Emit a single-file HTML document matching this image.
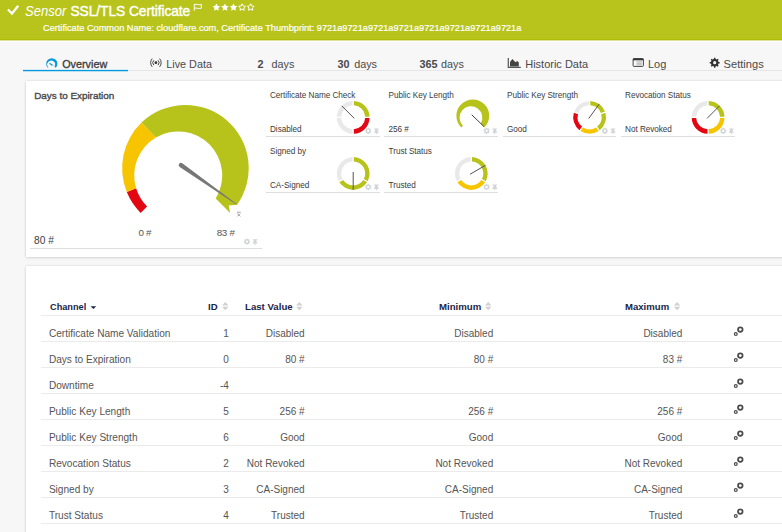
<!DOCTYPE html>
<html><head><meta charset="utf-8"><style>
html,body{margin:0;padding:0;}
body{width:782px;height:532px;overflow:hidden;position:relative;background:#f7f7f7;font-family:"Liberation Sans",sans-serif;}
.t{position:absolute;white-space:nowrap;line-height:1;}
#hdr{position:absolute;left:0;top:0;width:782px;height:39px;background:#b8c41c;border-bottom:1px solid #b0bc08;}
#hdr2{position:absolute;left:0;top:40px;width:782px;height:1px;background:#dce29c;}
#hdr3{position:absolute;left:0;top:41px;width:782px;height:1px;background:#fdfdfd;}
.panel{position:absolute;background:#fff;box-shadow:0 0 2px rgba(0,0,0,0.12),0 1px 3px rgba(0,0,0,0.10);}
svg{position:absolute;left:0;top:0;}
</style></head><body>
<div id="hdr"></div><div id="hdr2"></div><div id="hdr3"></div>
<div class="panel" style="left:26px;top:81px;width:770px;height:176px"></div>
<div class="panel" style="left:26px;top:266px;width:770px;height:280px"></div>
<div style="position:absolute;left:23px;top:70px;width:759px;height:1px;background:#e6e6e6"></div>
<div style="position:absolute;left:23px;top:69px;width:105px;height:1px;background:#d3ecf7"></div>
<div style="position:absolute;left:23px;top:70px;width:105px;height:1px;background:#0499d8"></div>
<div style="position:absolute;left:23px;top:71px;width:105px;height:1px;background:#b9e0f2"></div>
<div style="position:absolute;left:30px;top:248px;width:232px;height:1px;background:#dedede"></div>
<div style="position:absolute;left:266px;top:136px;width:114px;height:1px;background:#dedede"></div>
<div style="position:absolute;left:384px;top:136px;width:114px;height:1px;background:#dedede"></div>
<div style="position:absolute;left:503px;top:136px;width:113px;height:1px;background:#dedede"></div>
<div style="position:absolute;left:621px;top:136px;width:114px;height:1px;background:#dedede"></div>
<div style="position:absolute;left:266px;top:192px;width:114px;height:1px;background:#dedede"></div>
<div style="position:absolute;left:384px;top:192px;width:114px;height:1px;background:#dedede"></div>
<div style="position:absolute;left:41px;top:315px;width:741px;height:1px;background:#ebebeb"></div>
<div style="position:absolute;left:41px;top:341px;width:741px;height:1px;background:#ebebeb"></div>
<div style="position:absolute;left:41px;top:367px;width:741px;height:1px;background:#ebebeb"></div>
<div style="position:absolute;left:41px;top:393px;width:741px;height:1px;background:#ebebeb"></div>
<div style="position:absolute;left:41px;top:419px;width:741px;height:1px;background:#ebebeb"></div>
<div style="position:absolute;left:41px;top:445px;width:741px;height:1px;background:#ebebeb"></div>
<div style="position:absolute;left:41px;top:471px;width:741px;height:1px;background:#ebebeb"></div>
<div style="position:absolute;left:41px;top:497px;width:741px;height:1px;background:#ebebeb"></div>
<div style="position:absolute;left:41px;top:523px;width:741px;height:1px;background:#ebebeb"></div>
<svg width="782" height="532" viewBox="0 0 782 532">
<!-- check mark -->
<path d="M7.9,9.5 L12.0,13.5 L18.2,5.8" fill="none" stroke="#fff" stroke-width="2.2"/>
<!-- flag -->
<path d="M194.3,10.8 V4.0 M194.3,4.6 C196.5,3.4 198.6,5.6 201.3,4.4 V8.2 C198.6,9.4 196.5,7.2 194.3,8.4" fill="none" stroke="#fff" stroke-width="1"/>
<polygon points="216.40,3.40 215.22,5.78 212.60,6.16 214.50,8.02 214.05,10.64 216.40,9.40 218.75,10.64 218.30,8.02 220.20,6.16 217.58,5.78" fill="#fff"/>
<polygon points="224.97,3.40 223.79,5.78 221.17,6.16 223.07,8.02 222.62,10.64 224.97,9.40 227.32,10.64 226.87,8.02 228.77,6.16 226.15,5.78" fill="#fff"/>
<polygon points="233.54,3.40 232.36,5.78 229.74,6.16 231.64,8.02 231.19,10.64 233.54,9.40 235.89,10.64 235.44,8.02 237.34,6.16 234.72,5.78" fill="#fff"/>
<polygon points="242.11,3.80 241.05,5.94 238.69,6.29 240.40,7.96 239.99,10.31 242.11,9.20 244.23,10.31 243.82,7.96 245.53,6.29 243.17,5.94" fill="none" stroke="#fff" stroke-width="1"/>
<polygon points="250.68,3.80 249.62,5.94 247.26,6.29 248.97,7.96 248.56,10.31 250.68,9.20 252.80,10.31 252.39,7.96 254.10,6.29 251.74,5.94" fill="none" stroke="#fff" stroke-width="1"/>
<path d="M47.84,67.76 A5.60,5.60 0 1 1 55.76,67.76 L54.48,66.48 A3.89,3.89 0 1 0 48.41,67.19 Z" fill="#0499d8"/>
<line x1="49.5" y1="63.3" x2="52.6" y2="65.5" stroke="#0499d8" stroke-width="1.1"/>
<circle cx="155.9" cy="62.7" r="1.4" fill="#333"/>
<path d="M153.8,60.3 A3.4,3.4 0 0 0 153.8,65.1 M158.0,60.3 A3.4,3.4 0 0 1 158.0,65.1" fill="none" stroke="#444" stroke-width="1"/>
<path d="M152.2,58.6 A6.2,6.2 0 0 0 152.2,66.8 M159.6,58.6 A6.2,6.2 0 0 1 159.6,66.8" fill="none" stroke="#444" stroke-width="1"/>
<path d="M508.3,58 V67.4 H520.8" fill="none" stroke="#555" stroke-width="1.2"/>
<path d="M510,66.5 V62 L512.4,59 L515.5,62.3 L517.2,61 L518.8,62.6 V66.5 Z" fill="#444"/>
<rect x="633.1" y="58.6" width="10.3" height="7.8" rx="0.8" fill="#f7f7f7" stroke="#444" stroke-width="1"/>
<rect x="633.1" y="58.6" width="10.3" height="1.7" fill="#333"/>
<path d="M636.5,61.8 h5.4 M636.5,63.3 h5.4 M636.5,64.8 h5.4" stroke="#999" stroke-width="0.7"/>
<path d="M718.53,63.45 L719.65,63.39 L719.65,62.01 L718.53,61.95 L717.93,60.52 L718.69,59.68 L717.72,58.71 L716.88,59.47 L715.45,58.87 L715.39,57.75 L714.01,57.75 L713.95,58.87 L712.52,59.47 L711.68,58.71 L710.71,59.68 L711.47,60.52 L710.87,61.95 L709.75,62.01 L709.75,63.39 L710.87,63.45 L711.47,64.88 L710.71,65.72 L711.68,66.69 L712.52,65.93 L713.95,66.53 L714.01,67.65 L715.39,67.65 L715.45,66.53 L716.88,65.93 L717.72,66.69 L718.69,65.72 L717.93,64.88 Z M716.30,62.70 A1.6,1.6 0 1 0 713.10,62.70 A1.6,1.6 0 1 0 716.30,62.70 Z" fill="#333" fill-rule="evenodd"/>
<path d="M140.64,212.96 A63.30,63.30 0 0 1 126.79,192.12 L136.12,188.31 A44.00,44.00 0 0 0 147.07,206.53 Z" fill="#e30613"/>
<path d="M126.79,192.12 A63.30,63.30 0 0 1 141.51,122.59 L155.86,137.50 A44.00,44.00 0 0 0 136.12,188.31 Z" fill="#f6c500"/>
<path d="M141.51,122.59 A63.3,63.3 0 0 1 237.13,204.69 L228.69,205.43 L230.16,212.96 L215.67,198.47 A44,44 0 0 0 155.86,137.50 Z" fill="#b7c31b"/>
<path d="M179.69,166.93 L236.27,204.51 L236.67,203.94 L182.28,163.25 A2.25,2.25 0 0 0 179.69,166.93 Z" fill="#777"/>
<path d="M461.20,127.40 A16.40,16.40 0 1 1 484.40,127.40 L480.64,123.64 A11.40,11.40 0 1 0 462.87,125.73 Z" fill="#b7c31b"/>
<line x1="471.72" y1="114.76" x2="483.95" y2="126.57" stroke="#444" stroke-width="1"/>
<path d="M336.81,116.65 A16.4,16.4 0 0 1 352.55,100.91 L352.55,105.32 A12.0,12.0 0 0 0 341.22,116.65 Z" fill="#e9e9e9"/>
<path d="M353.85,100.91 A16.4,16.4 0 0 1 369.59,116.65 L365.18,116.65 A12.0,12.0 0 0 0 353.85,105.32 Z" fill="#b7c31b"/>
<path d="M369.59,117.95 A16.4,16.4 0 0 1 353.85,133.69 L353.85,129.28 A12.0,12.0 0 0 0 365.18,117.95 Z" fill="#e30613"/>
<path d="M352.55,133.69 A16.4,16.4 0 0 1 336.81,117.95 L341.22,117.95 A12.0,12.0 0 0 0 352.55,129.28 Z" fill="#e9e9e9"/>
<line x1="354.26" y1="118.36" x2="341.74" y2="105.84" stroke="#555" stroke-width="1"/>
<path d="M574.22,111.62 A16.4,16.4 0 0 1 588.95,100.91 L588.95,105.32 A12.0,12.0 0 0 0 578.40,112.98 Z" fill="#e9e9e9"/>
<path d="M590.25,100.91 A16.4,16.4 0 0 1 604.98,111.62 L600.80,112.98 A12.0,12.0 0 0 0 590.25,105.32 Z" fill="#b7c31b"/>
<path d="M605.39,112.85 A16.4,16.4 0 0 1 599.76,130.18 L597.17,126.61 A12.0,12.0 0 0 0 601.20,114.22 Z" fill="#b7c31b"/>
<path d="M598.71,130.94 A16.4,16.4 0 0 1 580.49,130.94 L583.08,127.38 A12.0,12.0 0 0 0 596.12,127.38 Z" fill="#f6c500"/>
<path d="M579.44,130.18 A16.4,16.4 0 0 1 573.81,112.85 L578.00,114.22 A12.0,12.0 0 0 0 582.03,126.61 Z" fill="#e30613"/>
<line x1="588.72" y1="118.51" x2="599.12" y2="104.19" stroke="#555" stroke-width="1"/>
<path d="M691.71,116.65 A16.4,16.4 0 0 1 707.45,100.91 L707.45,105.32 A12.0,12.0 0 0 0 696.12,116.65 Z" fill="#e9e9e9"/>
<path d="M708.75,100.91 A16.4,16.4 0 0 1 724.49,116.65 L720.08,116.65 A12.0,12.0 0 0 0 708.75,105.32 Z" fill="#b7c31b"/>
<path d="M724.49,117.95 A16.4,16.4 0 0 1 708.75,133.69 L708.75,129.28 A12.0,12.0 0 0 0 720.08,117.95 Z" fill="#f6c500"/>
<path d="M707.45,133.69 A16.4,16.4 0 0 1 691.71,117.95 L696.12,117.95 A12.0,12.0 0 0 0 707.45,129.28 Z" fill="#e30613"/>
<line x1="707.04" y1="118.36" x2="719.56" y2="105.84" stroke="#555" stroke-width="1"/>
<path d="M338.68,181.13 A16.4,16.4 0 0 1 352.55,157.11 L352.55,161.52 A12.0,12.0 0 0 0 342.50,178.93 Z" fill="#e9e9e9"/>
<path d="M353.85,157.11 A16.4,16.4 0 0 1 367.72,181.13 L363.90,178.93 A12.0,12.0 0 0 0 353.85,161.52 Z" fill="#b7c31b"/>
<path d="M367.07,182.26 A16.4,16.4 0 0 1 339.33,182.26 L343.15,180.05 A12.0,12.0 0 0 0 363.25,180.05 Z" fill="#b7c31b"/>
<line x1="353.20" y1="172.00" x2="353.20" y2="189.70" stroke="#555" stroke-width="1"/>
<path d="M456.78,181.13 A16.4,16.4 0 0 1 470.65,157.11 L470.65,161.52 A12.0,12.0 0 0 0 460.60,178.93 Z" fill="#e9e9e9"/>
<path d="M471.95,157.11 A16.4,16.4 0 0 1 485.82,181.13 L482.00,178.93 A12.0,12.0 0 0 0 471.95,161.52 Z" fill="#b7c31b"/>
<path d="M485.17,182.26 A16.4,16.4 0 0 1 457.43,182.26 L461.25,180.05 A12.0,12.0 0 0 0 481.35,180.05 Z" fill="#f6c500"/>
<line x1="470.00" y1="174.25" x2="485.33" y2="165.40" stroke="#555" stroke-width="1"/>
<path d="M249.33,242.17 L250.06,242.13 L250.06,241.07 L249.33,241.03 L249.02,240.29 L249.50,239.74 L248.76,239.00 L248.21,239.48 L247.47,239.17 L247.43,238.44 L246.37,238.44 L246.33,239.17 L245.59,239.48 L245.04,239.00 L244.30,239.74 L244.78,240.29 L244.47,241.03 L243.74,241.07 L243.74,242.13 L244.47,242.17 L244.78,242.91 L244.30,243.46 L245.04,244.20 L245.59,243.72 L246.33,244.03 L246.37,244.76 L247.43,244.76 L247.47,244.03 L248.21,243.72 L248.76,244.20 L249.50,243.46 L249.02,242.91 Z M248.10,241.60 A1.2,1.2 0 1 0 245.70,241.60 A1.2,1.2 0 1 0 248.10,241.60 Z" fill="#d0d3d6" fill-rule="evenodd"/>
<path d="M252.7,239.20000000000002 h4.6 v1 h-0.9 v1.5 l1,1 v0.8 h-1.9 v1.6 h-0.9 v-1.6 h-1.9 v-0.8 l1,-1 v-1.5 h-0.9 Z" fill="#d2d4d6"/>
<path d="M370.73,131.37 L371.46,131.33 L371.46,130.27 L370.73,130.23 L370.42,129.49 L370.90,128.94 L370.16,128.20 L369.61,128.68 L368.87,128.37 L368.83,127.64 L367.77,127.64 L367.73,128.37 L366.99,128.68 L366.44,128.20 L365.70,128.94 L366.18,129.49 L365.87,130.23 L365.14,130.27 L365.14,131.33 L365.87,131.37 L366.18,132.11 L365.70,132.66 L366.44,133.40 L366.99,132.92 L367.73,133.23 L367.77,133.96 L368.83,133.96 L368.87,133.23 L369.61,132.92 L370.16,133.40 L370.90,132.66 L370.42,132.11 Z M369.50,130.80 A1.2,1.2 0 1 0 367.10,130.80 A1.2,1.2 0 1 0 369.50,130.80 Z" fill="#d0d3d6" fill-rule="evenodd"/>
<path d="M374.1,128.4 h4.6 v1 h-0.9 v1.5 l1,1 v0.8 h-1.9 v1.6 h-0.9 v-1.6 h-1.9 v-0.8 l1,-1 v-1.5 h-0.9 Z" fill="#d2d4d6"/>
<path d="M489.03,131.37 L489.76,131.33 L489.76,130.27 L489.03,130.23 L488.72,129.49 L489.20,128.94 L488.46,128.20 L487.91,128.68 L487.17,128.37 L487.13,127.64 L486.07,127.64 L486.03,128.37 L485.29,128.68 L484.74,128.20 L484.00,128.94 L484.48,129.49 L484.17,130.23 L483.44,130.27 L483.44,131.33 L484.17,131.37 L484.48,132.11 L484.00,132.66 L484.74,133.40 L485.29,132.92 L486.03,133.23 L486.07,133.96 L487.13,133.96 L487.17,133.23 L487.91,132.92 L488.46,133.40 L489.20,132.66 L488.72,132.11 Z M487.80,130.80 A1.2,1.2 0 1 0 485.40,130.80 A1.2,1.2 0 1 0 487.80,130.80 Z" fill="#d0d3d6" fill-rule="evenodd"/>
<path d="M492.40000000000003,128.4 h4.6 v1 h-0.9 v1.5 l1,1 v0.8 h-1.9 v1.6 h-0.9 v-1.6 h-1.9 v-0.8 l1,-1 v-1.5 h-0.9 Z" fill="#d2d4d6"/>
<path d="M607.33,131.37 L608.06,131.33 L608.06,130.27 L607.33,130.23 L607.02,129.49 L607.50,128.94 L606.76,128.20 L606.21,128.68 L605.47,128.37 L605.43,127.64 L604.37,127.64 L604.33,128.37 L603.59,128.68 L603.04,128.20 L602.30,128.94 L602.78,129.49 L602.47,130.23 L601.74,130.27 L601.74,131.33 L602.47,131.37 L602.78,132.11 L602.30,132.66 L603.04,133.40 L603.59,132.92 L604.33,133.23 L604.37,133.96 L605.43,133.96 L605.47,133.23 L606.21,132.92 L606.76,133.40 L607.50,132.66 L607.02,132.11 Z M606.10,130.80 A1.2,1.2 0 1 0 603.70,130.80 A1.2,1.2 0 1 0 606.10,130.80 Z" fill="#d0d3d6" fill-rule="evenodd"/>
<path d="M610.7,128.4 h4.6 v1 h-0.9 v1.5 l1,1 v0.8 h-1.9 v1.6 h-0.9 v-1.6 h-1.9 v-0.8 l1,-1 v-1.5 h-0.9 Z" fill="#d2d4d6"/>
<path d="M725.63,131.37 L726.36,131.33 L726.36,130.27 L725.63,130.23 L725.32,129.49 L725.80,128.94 L725.06,128.20 L724.51,128.68 L723.77,128.37 L723.73,127.64 L722.67,127.64 L722.63,128.37 L721.89,128.68 L721.34,128.20 L720.60,128.94 L721.08,129.49 L720.77,130.23 L720.04,130.27 L720.04,131.33 L720.77,131.37 L721.08,132.11 L720.60,132.66 L721.34,133.40 L721.89,132.92 L722.63,133.23 L722.67,133.96 L723.73,133.96 L723.77,133.23 L724.51,132.92 L725.06,133.40 L725.80,132.66 L725.32,132.11 Z M724.40,130.80 A1.2,1.2 0 1 0 722.00,130.80 A1.2,1.2 0 1 0 724.40,130.80 Z" fill="#d0d3d6" fill-rule="evenodd"/>
<path d="M729.0,128.4 h4.6 v1 h-0.9 v1.5 l1,1 v0.8 h-1.9 v1.6 h-0.9 v-1.6 h-1.9 v-0.8 l1,-1 v-1.5 h-0.9 Z" fill="#d2d4d6"/>
<path d="M370.73,187.57 L371.46,187.53 L371.46,186.47 L370.73,186.43 L370.42,185.69 L370.90,185.14 L370.16,184.40 L369.61,184.88 L368.87,184.57 L368.83,183.84 L367.77,183.84 L367.73,184.57 L366.99,184.88 L366.44,184.40 L365.70,185.14 L366.18,185.69 L365.87,186.43 L365.14,186.47 L365.14,187.53 L365.87,187.57 L366.18,188.31 L365.70,188.86 L366.44,189.60 L366.99,189.12 L367.73,189.43 L367.77,190.16 L368.83,190.16 L368.87,189.43 L369.61,189.12 L370.16,189.60 L370.90,188.86 L370.42,188.31 Z M369.50,187.00 A1.2,1.2 0 1 0 367.10,187.00 A1.2,1.2 0 1 0 369.50,187.00 Z" fill="#d0d3d6" fill-rule="evenodd"/>
<path d="M374.1,184.60000000000002 h4.6 v1 h-0.9 v1.5 l1,1 v0.8 h-1.9 v1.6 h-0.9 v-1.6 h-1.9 v-0.8 l1,-1 v-1.5 h-0.9 Z" fill="#d2d4d6"/>
<path d="M489.03,187.57 L489.76,187.53 L489.76,186.47 L489.03,186.43 L488.72,185.69 L489.20,185.14 L488.46,184.40 L487.91,184.88 L487.17,184.57 L487.13,183.84 L486.07,183.84 L486.03,184.57 L485.29,184.88 L484.74,184.40 L484.00,185.14 L484.48,185.69 L484.17,186.43 L483.44,186.47 L483.44,187.53 L484.17,187.57 L484.48,188.31 L484.00,188.86 L484.74,189.60 L485.29,189.12 L486.03,189.43 L486.07,190.16 L487.13,190.16 L487.17,189.43 L487.91,189.12 L488.46,189.60 L489.20,188.86 L488.72,188.31 Z M487.80,187.00 A1.2,1.2 0 1 0 485.40,187.00 A1.2,1.2 0 1 0 487.80,187.00 Z" fill="#d0d3d6" fill-rule="evenodd"/>
<path d="M492.40000000000003,184.60000000000002 h4.6 v1 h-0.9 v1.5 l1,1 v0.8 h-1.9 v1.6 h-0.9 v-1.6 h-1.9 v-0.8 l1,-1 v-1.5 h-0.9 Z" fill="#d2d4d6"/>
<path d="M237.3,213.4 l3,3 M240.3,213.4 l-3,3 M237,212.2 h3.6" stroke="#8a8a8a" stroke-width="0.8" fill="none"/>
<circle cx="740.3" cy="329.6" r="2.3" fill="none" stroke="#4a4a4a" stroke-width="1.7"/>
<circle cx="735.8" cy="334.1" r="1.4" fill="none" stroke="#4a4a4a" stroke-width="1.2"/>
<circle cx="740.3" cy="355.6" r="2.3" fill="none" stroke="#4a4a4a" stroke-width="1.7"/>
<circle cx="735.8" cy="360.1" r="1.4" fill="none" stroke="#4a4a4a" stroke-width="1.2"/>
<circle cx="740.3" cy="381.6" r="2.3" fill="none" stroke="#4a4a4a" stroke-width="1.7"/>
<circle cx="735.8" cy="386.1" r="1.4" fill="none" stroke="#4a4a4a" stroke-width="1.2"/>
<circle cx="740.3" cy="407.6" r="2.3" fill="none" stroke="#4a4a4a" stroke-width="1.7"/>
<circle cx="735.8" cy="412.1" r="1.4" fill="none" stroke="#4a4a4a" stroke-width="1.2"/>
<circle cx="740.3" cy="433.6" r="2.3" fill="none" stroke="#4a4a4a" stroke-width="1.7"/>
<circle cx="735.8" cy="438.1" r="1.4" fill="none" stroke="#4a4a4a" stroke-width="1.2"/>
<circle cx="740.3" cy="459.6" r="2.3" fill="none" stroke="#4a4a4a" stroke-width="1.7"/>
<circle cx="735.8" cy="464.1" r="1.4" fill="none" stroke="#4a4a4a" stroke-width="1.2"/>
<circle cx="740.3" cy="485.6" r="2.3" fill="none" stroke="#4a4a4a" stroke-width="1.7"/>
<circle cx="735.8" cy="490.1" r="1.4" fill="none" stroke="#4a4a4a" stroke-width="1.2"/>
<circle cx="740.3" cy="511.6" r="2.3" fill="none" stroke="#4a4a4a" stroke-width="1.7"/>
<circle cx="735.8" cy="516.1" r="1.4" fill="none" stroke="#4a4a4a" stroke-width="1.2"/>
<path d="M222.1,305.5 l3.2,-3.6 l3.2,3.6 Z M222.1,306.7 l3.2,3.6 l3.2,-3.6 Z" fill="#d0d0d0"/>
<path d="M296.1,305.5 l3.2,-3.6 l3.2,3.6 Z M296.1,306.7 l3.2,3.6 l3.2,-3.6 Z" fill="#d0d0d0"/>
<path d="M485.0,305.5 l3.2,-3.6 l3.2,3.6 Z M485.0,306.7 l3.2,3.6 l3.2,-3.6 Z" fill="#d0d0d0"/>
<path d="M673.9,305.5 l3.2,-3.6 l3.2,3.6 Z M673.9,306.7 l3.2,3.6 l3.2,-3.6 Z" fill="#d0d0d0"/>
<path d="M90.6,306.3 h5.6 l-2.8,2.8 Z" fill="#1b2446"/>
</svg>
<div class="t" style="left:25.00px;top:4.21px;font-size:14.4px;font-weight:400;color:#fff;font-style:italic;transform:scaleX(0.905);transform-origin:0 0;">Sensor</div>
<div class="t" style="left:70.50px;top:4.62px;font-size:13.8px;font-weight:400;color:#fff;font-style:normal;letter-spacing:-0.08px;-webkit-text-stroke:0.4px #fff;">SSL/TLS Certificate</div>
<div class="t" style="left:42.80px;top:23.26px;font-size:9.5px;font-weight:400;color:#fff;font-style:normal;-webkit-text-stroke:0.2px #fff;transform:scaleX(0.968);transform-origin:0 0;">Certificate Common Name: cloudflare.com, Certificate Thumbprint: 9721a9721a9721a9721a9721a9721a9721a9721a</div>
<div class="t" style="left:62.20px;top:59.26px;font-size:10.8px;font-weight:400;color:#3a3a3a;font-style:normal;-webkit-text-stroke:0.3px #3a3a3a;">Overview</div>
<div class="t" style="left:166.30px;top:59.26px;font-size:10.8px;font-weight:400;color:#4a4a4a;font-style:normal;">Live Data</div>
<div class="t" style="left:257.50px;top:59.26px;font-size:10.8px;font-weight:700;color:#4a4a4a;font-style:normal;">2</div>
<div class="t" style="left:271.60px;top:59.26px;font-size:10.8px;font-weight:400;color:#4a4a4a;font-style:normal;">days</div>
<div class="t" style="left:337.60px;top:59.26px;font-size:10.8px;font-weight:700;color:#4a4a4a;font-style:normal;">30</div>
<div class="t" style="left:354.20px;top:59.26px;font-size:10.8px;font-weight:400;color:#4a4a4a;font-style:normal;">days</div>
<div class="t" style="left:419.60px;top:59.26px;font-size:10.8px;font-weight:700;color:#4a4a4a;font-style:normal;">365</div>
<div class="t" style="left:441.00px;top:59.26px;font-size:10.8px;font-weight:400;color:#4a4a4a;font-style:normal;">days</div>
<div class="t" style="left:525.20px;top:59.09px;font-size:11px;font-weight:400;color:#4a4a4a;font-style:normal;">Historic Data</div>
<div class="t" style="left:647.90px;top:59.09px;font-size:11px;font-weight:400;color:#4a4a4a;font-style:normal;">Log</div>
<div class="t" style="left:723.60px;top:59.00px;font-size:11.1px;font-weight:400;color:#4a4a4a;font-style:normal;">Settings</div>
<div class="t" style="left:34.20px;top:91.48px;font-size:9.95px;font-weight:400;color:#484848;font-style:normal;-webkit-text-stroke:0.35px #484848;letter-spacing:-0.03px;">Days to Expiration</div>
<div class="t" style="left:138.40px;top:228.20px;font-size:9.8px;font-weight:400;color:#555;font-style:normal;letter-spacing:-0.3px;">0 #</div>
<div class="t" style="left:216.70px;top:228.20px;font-size:9.8px;font-weight:400;color:#555;font-style:normal;letter-spacing:-0.3px;">83 #</div>
<div class="t" style="left:34.00px;top:235.57px;font-size:10.2px;font-weight:400;color:#3c3c3c;font-style:normal;">80 #</div>
<div class="t" style="left:270.00px;top:91.86px;font-size:8.2px;font-weight:400;color:#3d3d3d;font-style:normal;letter-spacing:-0.05px;">Certificate Name Check</div>
<div class="t" style="left:270.00px;top:125.56px;font-size:8.2px;font-weight:400;color:#3a3a3a;font-style:normal;letter-spacing:-0.05px;">Disabled</div>
<div class="t" style="left:388.60px;top:91.86px;font-size:8.2px;font-weight:400;color:#3d3d3d;font-style:normal;letter-spacing:-0.05px;">Public Key Length</div>
<div class="t" style="left:388.60px;top:125.56px;font-size:8.2px;font-weight:400;color:#3a3a3a;font-style:normal;letter-spacing:-0.05px;">256 #</div>
<div class="t" style="left:507.00px;top:91.86px;font-size:8.2px;font-weight:400;color:#3d3d3d;font-style:normal;letter-spacing:-0.05px;">Public Key Strength</div>
<div class="t" style="left:507.00px;top:125.56px;font-size:8.2px;font-weight:400;color:#3a3a3a;font-style:normal;letter-spacing:-0.05px;">Good</div>
<div class="t" style="left:625.10px;top:91.86px;font-size:8.2px;font-weight:400;color:#3d3d3d;font-style:normal;letter-spacing:-0.05px;">Revocation Status</div>
<div class="t" style="left:625.10px;top:125.56px;font-size:8.2px;font-weight:400;color:#3a3a3a;font-style:normal;letter-spacing:-0.05px;">Not Revoked</div>
<div class="t" style="left:270.00px;top:148.06px;font-size:8.2px;font-weight:400;color:#3d3d3d;font-style:normal;letter-spacing:-0.05px;">Signed by</div>
<div class="t" style="left:270.00px;top:181.76px;font-size:8.2px;font-weight:400;color:#3a3a3a;font-style:normal;letter-spacing:-0.05px;">CA-Signed</div>
<div class="t" style="left:388.60px;top:148.06px;font-size:8.2px;font-weight:400;color:#3d3d3d;font-style:normal;letter-spacing:-0.05px;">Trust Status</div>
<div class="t" style="left:388.60px;top:181.76px;font-size:8.2px;font-weight:400;color:#3a3a3a;font-style:normal;letter-spacing:-0.05px;">Trusted</div>
<div class="t" style="left:50.00px;top:302.22px;font-size:9.9px;font-weight:700;color:#1b2446;font-style:normal;transform:scaleX(0.93);transform-origin:0 0;">Channel</div>
<div class="t" style="left:207.80px;top:302.22px;font-size:9.9px;font-weight:700;color:#1b2446;font-style:normal;transform:scaleX(0.97);transform-origin:0 0;">ID</div>
<div class="t" style="left:245.00px;top:302.22px;font-size:9.9px;font-weight:700;color:#1b2446;font-style:normal;transform:scaleX(0.975);transform-origin:0 0;">Last Value</div>
<div class="t" style="left:439.30px;top:302.22px;font-size:9.9px;font-weight:700;color:#1b2446;font-style:normal;transform:scaleX(0.974);transform-origin:0 0;">Minimum</div>
<div class="t" style="left:625.10px;top:302.22px;font-size:9.9px;font-weight:700;color:#1b2446;font-style:normal;transform:scaleX(0.969);transform-origin:0 0;">Maximum</div>
<div class="t" style="left:48.90px;top:328.55px;font-size:10.1px;font-weight:400;color:#555;font-style:normal;">Certificate Name Validation</div>
<div class="t" style="right:553.20px;top:328.64px;font-size:10px;font-weight:400;color:#555;">1</div>
<div class="t" style="right:477.40px;top:328.64px;font-size:10px;font-weight:400;color:#555;">Disabled</div>
<div class="t" style="right:288.80px;top:328.64px;font-size:10px;font-weight:400;color:#555;">Disabled</div>
<div class="t" style="right:99.70px;top:328.64px;font-size:10px;font-weight:400;color:#555;">Disabled</div>
<div class="t" style="left:48.90px;top:354.55px;font-size:10.1px;font-weight:400;color:#555;font-style:normal;">Days to Expiration</div>
<div class="t" style="right:553.20px;top:354.64px;font-size:10px;font-weight:400;color:#555;">0</div>
<div class="t" style="right:477.40px;top:354.64px;font-size:10px;font-weight:400;color:#555;">80 #</div>
<div class="t" style="right:288.80px;top:354.64px;font-size:10px;font-weight:400;color:#555;">80 #</div>
<div class="t" style="right:99.70px;top:354.64px;font-size:10px;font-weight:400;color:#555;">83 #</div>
<div class="t" style="left:48.90px;top:380.55px;font-size:10.1px;font-weight:400;color:#555;font-style:normal;">Downtime</div>
<div class="t" style="right:553.20px;top:380.64px;font-size:10px;font-weight:400;color:#555;">-4</div>
<div class="t" style="left:48.90px;top:406.55px;font-size:10.1px;font-weight:400;color:#555;font-style:normal;">Public Key Length</div>
<div class="t" style="right:553.20px;top:406.64px;font-size:10px;font-weight:400;color:#555;">5</div>
<div class="t" style="right:477.40px;top:406.64px;font-size:10px;font-weight:400;color:#555;">256 #</div>
<div class="t" style="right:288.80px;top:406.64px;font-size:10px;font-weight:400;color:#555;">256 #</div>
<div class="t" style="right:99.70px;top:406.64px;font-size:10px;font-weight:400;color:#555;">256 #</div>
<div class="t" style="left:48.90px;top:432.55px;font-size:10.1px;font-weight:400;color:#555;font-style:normal;">Public Key Strength</div>
<div class="t" style="right:553.20px;top:432.64px;font-size:10px;font-weight:400;color:#555;">6</div>
<div class="t" style="right:477.40px;top:432.64px;font-size:10px;font-weight:400;color:#555;">Good</div>
<div class="t" style="right:288.80px;top:432.64px;font-size:10px;font-weight:400;color:#555;">Good</div>
<div class="t" style="right:99.70px;top:432.64px;font-size:10px;font-weight:400;color:#555;">Good</div>
<div class="t" style="left:48.90px;top:458.55px;font-size:10.1px;font-weight:400;color:#555;font-style:normal;">Revocation Status</div>
<div class="t" style="right:553.20px;top:458.64px;font-size:10px;font-weight:400;color:#555;">2</div>
<div class="t" style="right:477.40px;top:458.64px;font-size:10px;font-weight:400;color:#555;">Not Revoked</div>
<div class="t" style="right:288.80px;top:458.64px;font-size:10px;font-weight:400;color:#555;">Not Revoked</div>
<div class="t" style="right:99.70px;top:458.64px;font-size:10px;font-weight:400;color:#555;">Not Revoked</div>
<div class="t" style="left:48.90px;top:484.55px;font-size:10.1px;font-weight:400;color:#555;font-style:normal;">Signed by</div>
<div class="t" style="right:553.20px;top:484.64px;font-size:10px;font-weight:400;color:#555;">3</div>
<div class="t" style="right:477.40px;top:484.64px;font-size:10px;font-weight:400;color:#555;">CA-Signed</div>
<div class="t" style="right:288.80px;top:484.64px;font-size:10px;font-weight:400;color:#555;">CA-Signed</div>
<div class="t" style="right:99.70px;top:484.64px;font-size:10px;font-weight:400;color:#555;">CA-Signed</div>
<div class="t" style="left:48.90px;top:510.55px;font-size:10.1px;font-weight:400;color:#555;font-style:normal;">Trust Status</div>
<div class="t" style="right:553.20px;top:510.64px;font-size:10px;font-weight:400;color:#555;">4</div>
<div class="t" style="right:477.40px;top:510.64px;font-size:10px;font-weight:400;color:#555;">Trusted</div>
<div class="t" style="right:288.80px;top:510.64px;font-size:10px;font-weight:400;color:#555;">Trusted</div>
<div class="t" style="right:99.70px;top:510.64px;font-size:10px;font-weight:400;color:#555;">Trusted</div>
</body></html>
